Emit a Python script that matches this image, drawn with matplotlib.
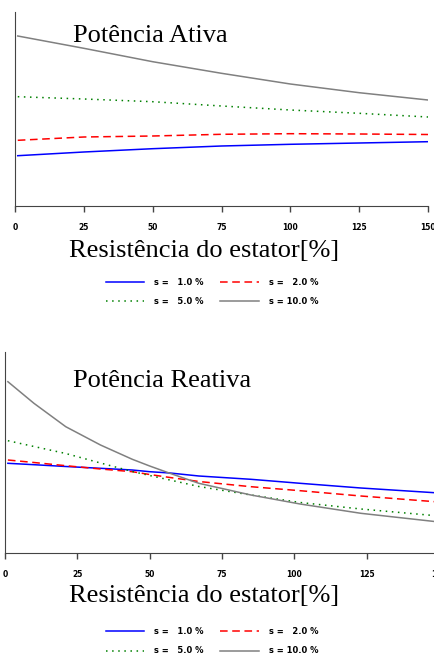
import matplotlib.pyplot as plt
import numpy as np

# resistencia do estator [%]
x_p = [1, 25, 50, 75, 100, 125, 150]
x_q = [1, 10, 21, 33, 44, 50, 57, 67, 85, 102, 123, 150]
slips = ["s =   1.0 %", "s =   2.0 %", "s =   5.0 %", "s = 10.0 %"]

# potencia ativa (unidades arbitrarias)
p_s1 = [50.3, 54.0, 57.3, 60.0, 61.7, 63.0, 64.3]
p_s2 = [65.7, 69.0, 70.0, 71.7, 72.3, 72.0, 71.5]
p_s5 = [109.3, 107.0, 104.3, 100.0, 96.0, 92.7, 89.0]
p_s10 = [170.0, 157.7, 144.3, 132.7, 122.0, 113.3, 106.0]

# potencia reativa (unidades arbitrarias)
q_s1 = [89.7, 88.3, 86.5, 84.7, 83.0, 81.3, 80.0, 77.0, 73.7, 69.7, 65.0, 60.0]
q_s2 = [93.0, 90.5, 87.3, 84.0, 81.3, 78.5, 75.5, 71.5, 66.3, 62.3, 57.0, 51.0]
q_s5 = [112.3, 106.5, 99.5, 90.0, 81.5, 77.5, 73.0, 66.5, 58.0, 50.5, 44.0, 37.0]
q_s10 = [171.3, 149.7, 126.3, 108.0, 93.7, 87.0, 79.7, 69.7, 58.0, 49.0, 39.7, 31.0]

xticks = [0, 25, 50, 75, 100, 125, 150]

colors = ["#0000ff", "#ff0000", "#008000", "#808080"]
styles = ["-", (0, (5, 3)), (0, (1, 3)), "-"]

tickfont = dict(family=["Liberation Sans Narrow", "DejaVu Sans"], weight="bold", size=5.5)
serif = ["Liberation Serif", "DejaVu Serif"]

fig = plt.figure(figsize=(4.34, 6.6), dpi=100)
ax1 = fig.add_axes([15 / 434, 1 - 206 / 660, 413 / 434, 194 / 660])
ax2 = fig.add_axes([5 / 434, 1 - 553 / 660, 434 / 434, 201 / 660])

panels = [
    (ax1, x_p, [p_s1, p_s2, p_s5, p_s10], 194, "Potência Ativa", 41.7, 257),
    (ax2, x_q, [q_s1, q_s2, q_s5, q_s10], 201, "Potência Reativa", 386.7, 602.5),
]

for ax, xs, series, ytop, title, ty, ly in panels:
    for ys, c, ls, lab in zip(series, colors, styles, slips):
        ax.plot(xs, ys, color=c, linestyle=ls, linewidth=1.1, label=lab)
    ax.set_xlim(0, 150)
    ax.set_ylim(0, ytop)
    ax.spines["top"].set_visible(False)
    ax.spines["right"].set_visible(False)
    ax.spines["left"].set_color("#444444")
    ax.spines["bottom"].set_color("#444444")
    ax.set_yticks([])
    ax.set_xticks(xticks)
    ax.set_xticklabels([str(t) for t in xticks], fontdict=tickfont)
    ax.tick_params(axis="x", direction="out", length=4, width=1, pad=8, colors="#444444", labelcolor="black")
    fig.text(73 / 434, 1 - ty / 660, title, family=serif, fontsize=19, va="baseline", ha="left")
    fig.text(204 / 434, 1 - ly / 660, "Resistência do estator[%]",
             family=serif, fontsize=19, va="baseline", ha="center")

legfont = dict(family=["Liberation Sans Narrow", "DejaVu Sans"], weight="bold", size=6)
for ax, ycen in [(ax1, 292), (ax2, 641)]:
    h, l = ax.get_legend_handles_labels()
    order = [0, 2, 1, 3]  # preencher por linhas
    ax.legend([h[i] for i in order], [l[i] for i in order], ncol=2, frameon=False, loc="center",
              bbox_to_anchor=(212 / 434, 1 - ycen / 660), bbox_transform=fig.transFigure,
              prop=legfont, handlelength=4.6, handletextpad=1.2, columnspacing=2.0, labelspacing=1.3)

fig.savefig("out.png", dpi=100)
